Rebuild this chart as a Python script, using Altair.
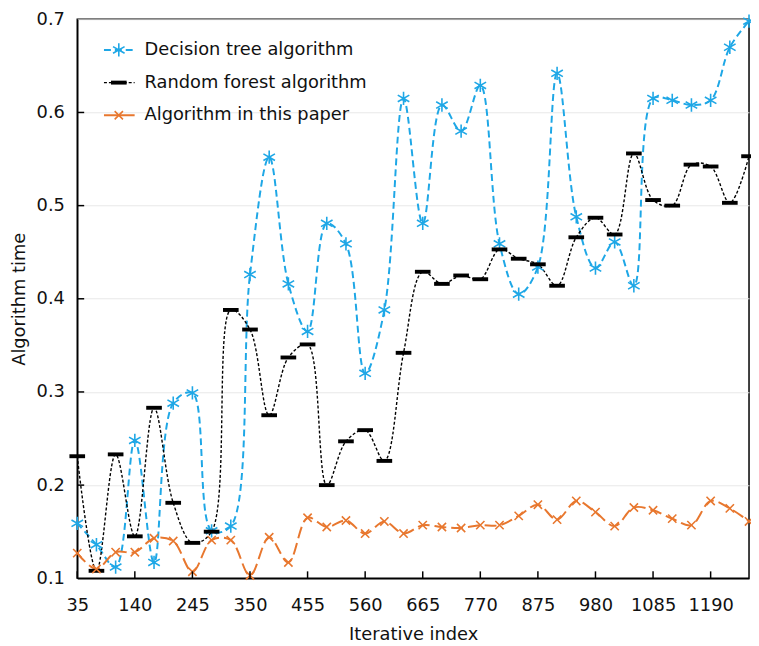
import altair as alt
import pandas as pd

iterations = [35, 70, 105, 140, 175, 210, 245, 280, 315, 350, 385, 420, 455, 490,
              525, 560, 595, 630, 665, 700, 735, 770, 805, 840, 875, 910, 945, 980,
              1015, 1050, 1085, 1120, 1155, 1190, 1225, 1260]

decision_tree = [0.159, 0.136, 0.112, 0.248, 0.117, 0.288, 0.299, 0.151, 0.156, 0.426,
                 0.552, 0.416, 0.365, 0.481, 0.459, 0.320, 0.388, 0.615, 0.481, 0.608,
                 0.580, 0.629, 0.459, 0.405, 0.434, 0.642, 0.488, 0.433, 0.461, 0.414,
                 0.615, 0.613, 0.608, 0.613, 0.670, 0.698]

random_forest = [0.231, 0.108, 0.233, 0.145, 0.283, 0.181, 0.138, 0.150, 0.388, 0.367,
                 0.275, 0.337, 0.351, 0.200, 0.247, 0.259, 0.226, 0.342, 0.429, 0.416,
                 0.425, 0.421, 0.453, 0.443, 0.437, 0.414, 0.466, 0.487, 0.469, 0.556,
                 0.506, 0.500, 0.544, 0.542, 0.503, 0.553]

this_paper = [0.127, 0.110, 0.128, 0.128, 0.143, 0.140, 0.107, 0.141, 0.141, 0.103,
              0.144, 0.117, 0.165, 0.155, 0.162, 0.148, 0.161, 0.148, 0.157, 0.155,
              0.154, 0.157, 0.157, 0.167, 0.179, 0.163, 0.183, 0.171, 0.156, 0.176,
              0.173, 0.164, 0.157, 0.183, 0.175, 0.161]

series_names = ["Decision tree algorithm", "Random forest algorithm", "Algorithm in this paper"]
x_ticks = [35, 140, 245, 350, 455, 560, 665, 770, 875, 980, 1085, 1190]
y_ticks = [0.1, 0.2, 0.3, 0.4, 0.5, 0.6, 0.7]

W, H = 679, 565
FONT = "DejaVu Sans"

ASTERISK = "M0,-1L0,1M-0.87,-0.5L0.87,0.5M-0.87,0.5L0.87,-0.5"
DASHBAR = "M-1,-0.25L1,-0.25L1,0.25L-1,0.25Z"
XMARK = "M-1,-1L1,1M-1,1L1,-1"

styles = [
    dict(values=decision_tree, color="#1ea7e6", dash=[7, 4], width=2.0,
         shape=ASTERISK, size=180, filled=False),
    dict(values=random_forest, color="#000000", dash=[3, 2], width=1.4,
         shape=DASHBAR, size=250, filled=True),
    dict(values=this_paper, color="#e8772e", dash=[12, 5], width=2.0,
         shape=XMARK, size=70, filled=False),
]

x_scale = alt.Scale(domain=[35, 1260], nice=False, zero=False)
y_scale = alt.Scale(domain=[0.1, 0.7], nice=False, zero=False)

x_axis = alt.Axis(values=x_ticks, title="Iterative index", grid=False, ticks=False,
                  format="d",
                  labelFontSize=18, labelFont=FONT, labelColor="#111", labelPadding=19,
                  titleFontSize=18, titleFont=FONT, titleFontWeight="normal",
                  titleColor="#111", titlePadding=11, domainColor="black",
                  domainWidth=1.5, labelFlush=False)
y_axis = alt.Axis(values=y_ticks, title="Algorithm time", grid=True, ticks=False,
                  gridColor="#e8e8e8", gridWidth=1,
                  labelFontSize=18, labelFont=FONT, labelColor="#111", labelPadding=13,
                  titleFontSize=18, titleFont=FONT, titleFontWeight="normal",
                  titleColor="#111", titlePadding=8, domainColor="black",
                  domainWidth=1.5, format=".1f", labelFlush=False)

layers = []

axis_df = pd.DataFrame({"x": [35, 1260], "y": [0.1, 0.7]})
layers.append(alt.Chart(axis_df).mark_point(opacity=0).encode(
    x=alt.X("x:Q", scale=x_scale, axis=x_axis),
    y=alt.Y("y:Q", scale=y_scale, axis=y_axis),
))

for name, st in zip(series_names, styles):
    df = pd.DataFrame({"x": iterations, "y": st["values"]})
    base = alt.Chart(df).encode(
        x=alt.X("x:Q", scale=x_scale),
        y=alt.Y("y:Q", scale=y_scale),
    )
    layers.append(base.mark_line(interpolate="catmull-rom", color=st["color"],
                                 strokeDash=st["dash"], strokeWidth=st["width"], clip=True))

for name, st in zip(series_names, styles):
    df = pd.DataFrame({"x": iterations, "y": st["values"]})
    base = alt.Chart(df).encode(
        x=alt.X("x:Q", scale=x_scale),
        y=alt.Y("y:Q", scale=y_scale),
    )
    if st["filled"]:
        layers.append(base.mark_point(shape=st["shape"], size=st["size"], filled=True,
                                      color=st["color"], opacity=1))
    else:
        layers.append(base.mark_point(shape=st["shape"], size=st["size"], filled=False,
                                      color=st["color"], strokeWidth=1.6, opacity=1))

xt = pd.DataFrame({"v": x_ticks})
layers.append(alt.Chart(xt).mark_rule(color="black", strokeWidth=1.5).encode(
    x=alt.X("v:Q", scale=x_scale), y=alt.value(H), y2=alt.value(H - 7)))
yt = pd.DataFrame({"v": y_ticks[1:-1]})
layers.append(alt.Chart(yt).mark_rule(color="black", strokeWidth=1.5).encode(
    y=alt.Y("v:Q", scale=y_scale), x=alt.value(0), x2=alt.value(7)))

for i, (name, st) in enumerate(zip(series_names, styles)):
    ly = 31 + i * 33
    ldf = pd.DataFrame({"label": [name]})
    lc = alt.Chart(ldf)
    layers.append(lc.mark_rule(color=st["color"], strokeDash=st["dash"] if i != 2 else [20, 0],
                               strokeWidth=st["width"]).encode(
        x=alt.value(27), x2=alt.value(58), y=alt.value(ly)))
    if st["filled"]:
        layers.append(lc.mark_point(shape=st["shape"], size=st["size"], filled=True,
                                    color=st["color"], opacity=1).encode(
            x=alt.value(42), y=alt.value(ly)))
    else:
        layers.append(lc.mark_point(shape=st["shape"], size=st["size"], filled=False,
                                    color=st["color"], strokeWidth=1.6, opacity=1).encode(
            x=alt.value(42), y=alt.value(ly)))
    layers.append(lc.mark_text(align="left", baseline="middle", font=FONT, fontSize=18,
                               color="#111").encode(
        x=alt.value(68), y=alt.value(ly), text="label:N"))

chart = alt.layer(*layers).properties(
    width=W, height=H,
    autosize=alt.AutoSizeParams(type="none"),
    padding={"left": 70, "top": 8, "right": 2, "bottom": 62},
).configure_view(stroke="black", strokeWidth=1.5)

chart.save("out.html", embed_options={"renderer": "svg", "actions": False})
